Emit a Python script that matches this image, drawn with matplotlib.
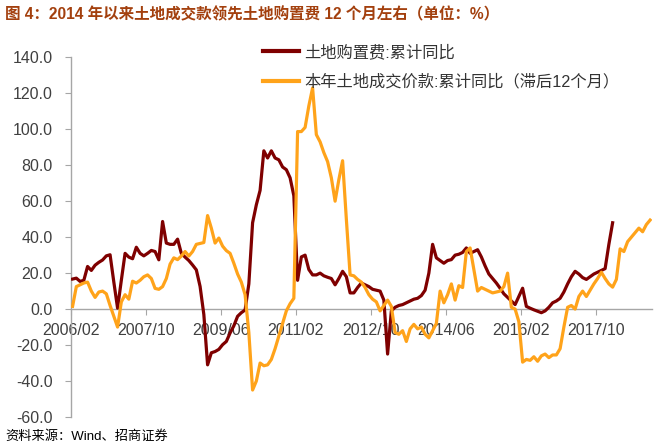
import matplotlib
matplotlib.use('Agg')
import matplotlib.pyplot as plt
import numpy as np

plt.rcParams['font.family'] = ['Liberation Sans', 'Noto Sans CJK SC']

# 土地购置费:累计同比 (monthly from 2006/02)
land_purchase = [16.7, 17.2, 15.4, 16, 23.7, 21.5, 24.4, 26, 27.3, 29.6,
                 30.2, 15, 0.5, 16, 31, 28.9, 28, 34.4, 31, 29.6,
                 31, 32.6, 32, 27.4, 48.7, 36.7, 36, 36, 38.9, 31,
                 28.9, 27, 24.5, 21.8, 12.6, -3, -31, -24.3, -23.6, -22.4,
                 -19.8, -18, -13.3, -9.3, -4, -2, -0.5, 14, 48, 58,
                 66, 88, 84, 88, 84, 83, 79, 77.5, 73, 63,
                 16, 29, 30, 22, 19, 19, 20, 18.5, 17.7, 17,
                 13.5, 17, 21, 18, 9, 9, 12, 14.5, 13.5, 12.5,
                 11, 10.5, 10, 5, -25, -1, 1, 2, 2.5, 3.5,
                 4.5, 5.5, 6, 7.5, 10.5, 20, 36, 28.5, 27, 25.5,
                 27, 27.5, 30, 30.5, 31.5, 34, 31, 32, 33, 29,
                 24, 19.5, 17, 14.5, 11.6, 8.5, 6.5, 4.5, 2.5, 7,
                 11.6, 1.5, 0.5, -0.4, -1.2, -2, -1, 1, 3.5, 4.5,
                 6, 9.5, 14, 18, 21, 19.5, 17.5, 16.5, 18, 19.5,
                 20.5, 21.5, 22.5, 36, 48]

# 本年土地成交价款:累计同比（滞后12个月）
land_deal = [1.5, 12.5, 13.5, 14.5, 15, 10, 6.5, 9.5, 10, 8.5,
             2, -4, -10, 4, 8, 5.5, 15.5, 14.5, 16, 18,
             19, 17, 11.5, 11, 12.5, 17, 25, 28.5, 27.5, 29.5,
             32, 29.5, 32, 36, 36.5, 37, 52, 45, 36.7, 39.5,
             35, 32.5, 31, 25.5, 19.5, 15, 8, -13, -45, -40,
             -30, -31.5, -31, -28, -22, -15, -8, -1, 3, 6,
             98.7, 98.7, 101, 113, 123, 97, 93, 87, 82, 73,
             60, 72, 82.5, 50, 19, 18.5, 16.5, 15, 12, 8,
             5.5, 4, -1, 2, 5, 1.5, -13, -14, -12, -18,
             -11, -8.5, -11, -10, -14, -16, -12, -8, 10, 3.5,
             8, 14, 5, 13, 12, 32, 34, 22, 10, 12,
             11, 10, 9, 9.5, 10, 12.5, 20, 1, 0, -7,
             -29.5, -28, -28.5, -26.5, -29, -26, -25, -27, -25.5, -25.5,
             -22, -10, 1, 2, 0, 7, 10, 7, 10.5, 14,
             17, 20.5, 17, 14, 12.2, 16.5, 33.5, 32, 37.5, 40,
             42.5, 45, 43, 47, 49.5]

tick_labels = ['2006/02', '2007/10', '2009/06', '2011/02',
               '2012/10', '2014/06', '2016/02', '2017/10']
y_ticks = [-60, -40, -20, 0, 20, 40, 60, 80, 100, 120, 140]

label_red = '土地购置费:累计同比'
label_orange = '本年土地成交价款:累计同比（滞后12个月）'
title = '图 4：2014 年以来土地成交款领先土地购置费 12 个月左右（单位：%）'
source = '资料来源：Wind、招商证券'

W, H = 656, 448
fig = plt.figure(figsize=(W / 100, H / 100), dpi=100)
ax = fig.add_axes([70.7 / W, 1 - 417 / H, (652 - 70.7) / W, (417 - 57.3) / H])

RED = '#7F0000'
ORANGE = '#FFA31A'
ax.plot(np.arange(len(land_purchase)), land_purchase, color=RED, lw=2.3,
        label=label_red, zorder=3, solid_joinstyle='round')
ax.plot(np.arange(len(land_deal)), land_deal, color=ORANGE, lw=2.3,
        label=label_orange, zorder=4, solid_joinstyle='round')

ax.set_xlim(-0.5, 154.5)
ax.set_ylim(-60, 140)
ax.set_yticks(y_ticks)
ax.set_yticklabels([f'{v:.1f}' for v in y_ticks])
ax.set_xticks([-0.5 + 20 * k for k in range(len(tick_labels))])
ax.set_xticklabels(tick_labels)

for s in ['top', 'right']:
    ax.spines[s].set_visible(False)
ax.spines['bottom'].set_position(('data', 0))
AX_C = '#A6A6A6'
ax.spines['bottom'].set_color(AX_C)
ax.spines['left'].set_color(AX_C)
ax.spines['bottom'].set_linewidth(1.0)
ax.spines['left'].set_linewidth(1.0)
ax.tick_params(axis='y', length=4, color=AX_C, pad=9, labelsize=11.5,
               labelcolor='#404040')
ax.tick_params(axis='x', length=4, color=AX_C, pad=6, labelsize=11.5,
               labelcolor='#404040')

leg = ax.legend(loc='upper left', bbox_to_anchor=(263 / W, 1 - 44 / H),
                bbox_transform=fig.transFigure, frameon=False,
                handlelength=2.2, handletextpad=0.35, labelspacing=0.85,
                fontsize=11.7, borderpad=0, borderaxespad=0)
for t in leg.get_texts():
    t.set_color('#333333')
for l in leg.get_lines():
    l.set_linewidth(3)

fig.text(5 / W, 1 - 15 / H, title, fontsize=11.2, fontweight='bold',
         color='#A3400E', va='center', ha='left')
fig.text(5 / W, 1 - 437 / H, source, fontsize=9.5, color='black',
         va='center', ha='left')

fig.savefig('out.png', dpi=100)
